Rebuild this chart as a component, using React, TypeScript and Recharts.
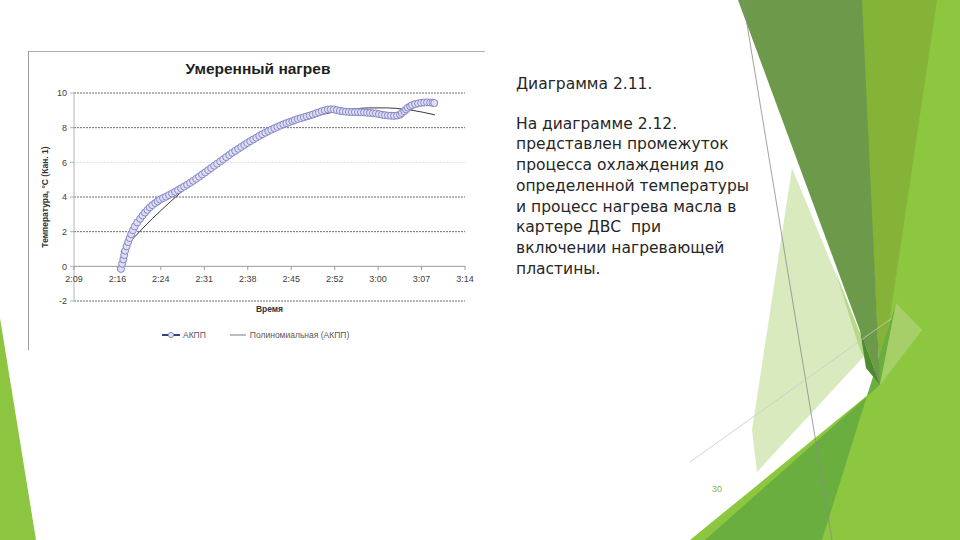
import React from 'react';
import { LineChart, Line, XAxis, YAxis, ReferenceLine, Legend } from 'recharts';

const chartTitle = 'Умеренный нагрев';
const seriesName = 'АКПП';
const trendName = 'Полиномиальная (АКПП)';
const xTitle = 'Время';
const yTitle = 'Температура, °С (Кан. 1)';

// time in minutes after midnight (2:16 ≈ 136.8), temperature in °C
const akppTime = [
  136.8, 137.0, 137.2, 137.35, 137.5, 137.75, 138.0, 138.25, 138.5, 138.8, 139.1, 139.5,
  140.0, 140.4, 140.8, 141.2, 141.6, 142.0, 142.5, 142.9, 143.3, 143.8, 144.3, 144.8,
  145.3, 145.8, 146.3, 146.8, 147.3, 147.8, 148.3, 148.8, 149.3, 149.8, 150.3, 150.8,
  151.3, 151.8, 152.3, 152.8, 153.3, 153.8, 154.3, 154.8, 155.3, 155.8, 156.3, 156.8,
  157.3, 157.8, 158.3, 158.8, 159.3, 159.8, 160.3, 160.8, 161.3, 161.8, 162.3, 162.8,
  163.3, 163.8, 164.3, 164.8, 165.3, 165.7, 166.2, 166.7, 167.2, 167.7, 168.2, 168.7,
  169.2, 169.7, 170.2, 170.7, 171.2, 171.7, 172.2, 172.7, 173.2, 173.7, 174.2, 174.7,
  175.2, 175.7, 176.2, 176.7, 177.2, 177.7, 178.2, 178.7, 179.2, 179.7, 180.2, 180.7,
  181.2, 181.7, 182.2, 182.7, 183.2, 183.5, 183.9, 184.2, 184.5, 184.9, 185.2, 185.7,
  186.2, 186.7, 187.2, 187.7, 188.2, 188.6, 188.9,
];
const akppTemp = [
  -0.15, 0.15, 0.4, 0.65, 0.9, 1.15, 1.4, 1.63, 1.85, 2.08, 2.3, 2.53,
  2.75, 2.93, 3.1, 3.25, 3.4, 3.53, 3.65, 3.75, 3.85, 3.94, 4.02, 4.11,
  4.2, 4.3, 4.4, 4.5, 4.6, 4.71, 4.82, 4.93, 5.05, 5.17, 5.3, 5.42,
  5.55, 5.67, 5.8, 5.92, 6.05, 6.17, 6.3, 6.42, 6.55, 6.66, 6.78, 6.89,
  7.0, 7.11, 7.22, 7.32, 7.42, 7.52, 7.62, 7.71, 7.8, 7.88, 7.97, 8.04,
  8.12, 8.19, 8.26, 8.32, 8.38, 8.44, 8.5, 8.55, 8.6, 8.65, 8.7, 8.76,
  8.82, 8.88, 8.95, 9.0, 9.05, 9.06, 9.05, 9.01, 8.97, 8.94, 8.92, 8.91,
  8.9, 8.9, 8.9, 8.89, 8.88, 8.86, 8.85, 8.83, 8.82, 8.78, 8.75, 8.72,
  8.7, 8.69, 8.68, 8.7, 8.75, 8.85, 8.95, 9.05, 9.15, 9.23, 9.3, 9.36,
  9.4, 9.43, 9.45, 9.46, 9.45, 9.44, 9.42,
];

const trendTime = [136.8, 139, 142, 145, 148, 151, 154, 157, 160, 163, 166, 169, 172, 175, 178, 181, 184, 187, 189];
const trendTemp = [0.83, 1.67, 2.74, 3.72, 4.63, 5.45, 6.19, 6.84, 7.42, 7.91, 8.32, 8.65, 8.89, 9.06, 9.14, 9.14, 9.06, 8.89, 8.74];

const timeTickLabels = ['2:09', '2:16', '2:24', '2:31', '2:38', '2:45', '2:52', '3:00', '3:07', '3:14'];
const tempTicks = [-2, 0, 2, 4, 6, 8, 10];

const slideCaption = 'Диаграмма 2.11.';
const slideLines = [
  'На диаграмме 2.12.',
  'представлен промежуток',
  'процесса охлаждения до',
  'определенной температуры',
  'и процесс нагрева масла в',
  'картере ДВС  при',
  'включении нагревающей',
  'пластины.',
];
const pageNumber = '30';

const akppData = akppTime.map((t, i) => ({ t, v: akppTemp[i] }));
const trendData = trendTime.map((t, i) => ({ t, v: trendTemp[i] }));

const xStart = 129;
const xEnd = 194;
const xTicks = timeTickLabels.map((_, i) => xStart + (i * (xEnd - xStart)) / (timeTickLabels.length - 1));

const chartFont = '"Liberation Sans", Arial, sans-serif';

const TimeTick = (props: any) => {
  const { x, y, index } = props;
  return (
    <g>
      <line x1={x} x2={x} y1={y - 35} y2={y - 31} stroke="#9a9a9a" />
      <text x={x} y={y - 19} textAnchor="middle" fontSize={9} fill="#404040" fontFamily={chartFont}>
        {timeTickLabels[index]}
      </text>
    </g>
  );
};

const LegendBox = () => (
  <div style={{ display: 'flex', alignItems: 'center', fontFamily: chartFont, fontSize: 8.5, color: '#595959' }}>
    <svg width={18} height={8}>
      <line x1={0} x2={18} y1={4} y2={4} stroke="#3b3b8c" strokeWidth={2} />
      <circle cx={9} cy={4} r={2.6} fill="#e2e2f4" stroke="#8a8acc" />
    </svg>
    <span style={{ marginLeft: 3 }}>{seriesName}</span>
    <svg width={16} height={8} style={{ marginLeft: 24 }}>
      <line x1={0} x2={16} y1={4} y2={4} stroke="#7a7a7a" strokeWidth={1} />
    </svg>
    <span style={{ marginLeft: 4 }}>{trendName}</span>
  </div>
);

const Decorations = () => (
  <svg width={960} height={540} style={{ position: 'absolute', left: 0, top: 0 }}>
    <polygon points="0,318 0,540 36,540" fill="#8cc53f" />
    <polygon points="935,0 960,0 960,540 690,540 880,385" fill="#8dc63f" />
    <polygon points="860,0 937,0 880,385" fill="#84b337" />
    <polygon points="705,540 822,540 896,303 880,385" fill="#6aae40" />
    <polygon points="738,0 862,0 880,385" fill="#6c9a4a" />
    <polygon points="792,168 868,352 757,472 752,430" fill="#d6e8b8" opacity={0.9} />
    <polygon points="835,270 880,385 860,350" fill="#b8d889" />
    <polygon points="880,385 896,303 922,330" fill="#a6cf6a" />
    <polygon points="860,330 880,385 866,368" fill="#4f8a2c" />
    <line x1={743} y1={0} x2={832} y2={540} stroke="#8a8a8a" strokeWidth={0.8} />
    <line x1={690} y1={462} x2={892} y2={318} stroke="#c8c8c8" strokeWidth={0.8} />
  </svg>
);

export default function App() {
  return (
    <div style={{ position: 'absolute', left: 0, top: 0, width: 960, height: 540, background: '#fff', overflow: 'hidden' }}>
      <Decorations />

      {/* chart picture frame */}
      <div style={{ position: 'absolute', left: 28, top: 51, width: 457, height: 1, background: '#b0b0b0' }} />
      <div style={{ position: 'absolute', left: 28, top: 51, width: 1, height: 299, background: '#a0a0a0' }} />

      <div
        style={{
          position: 'absolute',
          left: 28,
          top: 60,
          width: 460,
          textAlign: 'center',
          fontFamily: chartFont,
          fontWeight: 'bold',
          fontSize: 15.5,
          color: '#1f1f1f',
        }}
      >
        {chartTitle}
      </div>

      <div style={{ position: 'absolute', left: 0, top: 0 }}>
        <LineChart width={480} height={360} margin={{ top: 93, right: 15, bottom: 29, left: 50 }}>
          <XAxis
            type="number"
            dataKey="t"
            domain={[xStart, xEnd]}
            ticks={xTicks}
            interval={0}
            allowDataOverflow
            height={30}
            axisLine={false}
            tickLine={false}
            tickSize={0}
            tickMargin={0}
            tick={<TimeTick />}
            label={({ viewBox }: any) => (
              <text
                x={viewBox.x + viewBox.width / 2}
                y={viewBox.y + 11}
                textAnchor="middle"
                fontSize={8.5}
                fontWeight="bold"
                fill="#333"
                fontFamily={chartFont}
              >
                {xTitle}
              </text>
            )}
          />
          <YAxis
            type="number"
            domain={[-2, 10]}
            ticks={tempTicks}
            interval={0}
            width={24}
            axisLine={{ stroke: '#b4b4b4' }}
            tickLine={{ stroke: '#b4b4b4' }}
            tickSize={4}
            tickMargin={3}
            tick={{ fontSize: 9, fill: '#404040', fontFamily: chartFont }}
            label={({ viewBox }: any) => {
              const cx = viewBox.x - 2;
              const cy = viewBox.y + viewBox.height / 2;
              return (
                <text
                  x={cx}
                  y={cy}
                  transform={`rotate(-90 ${cx} ${cy})`}
                  textAnchor="middle"
                  fontSize={8.5}
                  fontWeight="bold"
                  fill="#333"
                  fontFamily={chartFont}
                >
                  {yTitle}
                </text>
              );
            }}
          />
          {tempTicks
            .filter((v) => v !== 0)
            .map((v) => (
              <ReferenceLine key={v} y={v} stroke={v === 6 ? '#e0e0e0' : '#6a6a6a'} strokeDasharray="2 1" />
            ))}
          <ReferenceLine y={0} stroke="#9a9a9a" />
          <Line
            data={akppData}
            dataKey="v"
            name={seriesName}
            type="monotone"
            stroke="#6c6cb8"
            strokeWidth={1}
            dot={{ r: 3.5, fill: '#dfdff3', stroke: '#8585c9', strokeWidth: 1 }}
            isAnimationActive={false}
          />
          <Line
            data={trendData}
            dataKey="v"
            name={trendName}
            type="monotone"
            stroke="#3a3a3a"
            strokeWidth={1}
            dot={false}
            isAnimationActive={false}
          />
          <Legend
            layout="horizontal"
            verticalAlign="middle"
            align="center"
            content={<LegendBox />}
            wrapperStyle={{ left: 162, top: 330, width: 260, height: 12 }}
          />
        </LineChart>
      </div>

      <div
        style={{
          position: 'absolute',
          left: 516,
          top: 74,
          fontFamily: '"DejaVu Sans", sans-serif',
          fontSize: 15.5,
          lineHeight: '20.7px',
          color: '#262626',
          whiteSpace: 'pre',
        }}
      >
        <div style={{ marginBottom: 19 }}>{slideCaption}</div>
        {slideLines.map((line) => (
          <div key={line}>{line}</div>
        ))}
      </div>

      <div
        style={{
          position: 'absolute',
          left: 712,
          top: 484,
          fontFamily: chartFont,
          fontSize: 9,
          color: '#8cb33c',
        }}
      >
        {pageNumber}
      </div>
    </div>
  );
}
